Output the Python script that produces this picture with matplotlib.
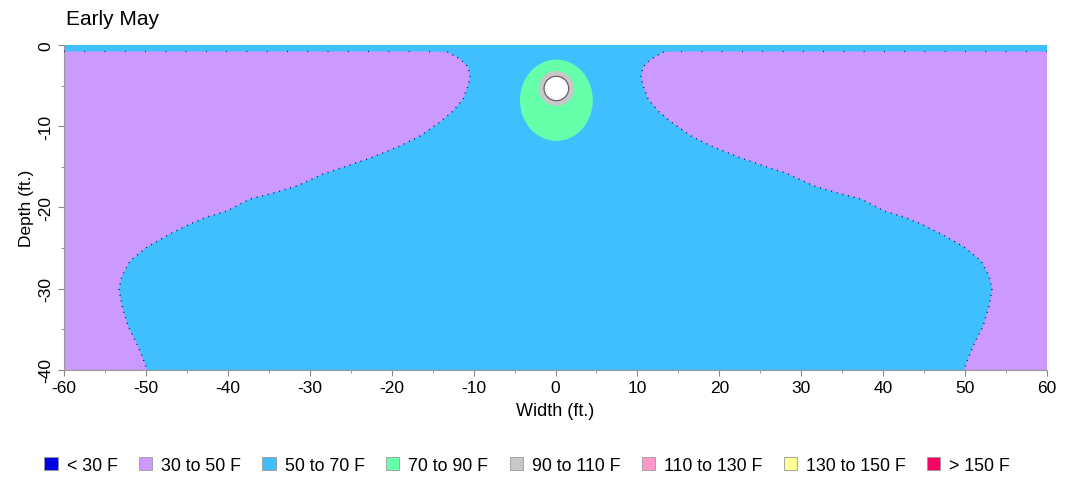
import matplotlib.pyplot as plt
from matplotlib.patches import Ellipse, Circle, Patch

plt.rcParams['font.family'] = ['Liberation Sans', 'DejaVu Sans']
plt.rcParams['axes.unicode_minus'] = False

# left purple/blue boundary (width ft, depth ft); right side is the mirror image
edge_x = [-60, -16.0, -13.2, -11.66, -10.68, -10.44, -10.68, -11.29, -12.51, -14.1,
          -16.54, -18.98, -22.28, -25.09, -28.38, -31.56, -34.85, -37.29, -40.1,
          -42.54, -44.62, -47.06, -49.87, -51.94, -52.92, -53.29, -52.92, -52.19,
          -50.97, -50.11, -49.87]
edge_d = [-0.8, -0.8, -0.85, -1.72, -2.71, -3.82, -5.05, -6.65, -8.12, -9.48,
          -11.2, -12.43, -13.78, -14.77, -15.88, -17.35, -18.34, -18.95, -20.43,
          -21.17, -22.03, -23.26, -24.86, -26.58, -28.43, -30.03, -32.12, -34.58,
          -37.05, -39.26, -40.0]

# pipe and warm zone around it
pipe_x, pipe_d = 0.1, -5.35
pipe_r = 1.5
ring_r = 2.15
warm_x, warm_d = 0.1, -6.8
warm_w, warm_h = 8.9, 10.0

legend_labels = ['< 30 F', '30 to 50 F', '50 to 70 F', '70 to 90 F',
                 '90 to 110 F', '110 to 130 F', '130 to 150 F', '> 150 F']
legend_colors = ['#0000e6', '#cc99ff', '#40bfff', '#66ffaa',
                 '#c8c8c8', '#ff99cc', '#ffff99', '#ff0066']

purple = legend_colors[1]
blue = legend_colors[2]
dot_col = '#1a1a55'

fig = plt.figure(figsize=(10.67, 4.81), dpi=100)
ax = fig.add_axes([0.06, 0.2287, 0.9213, 0.6757])
ax.set_facecolor(blue)

# purple zones, left and mirrored right
left_x = edge_x + [-60]
left_d = edge_d + [-40]
ax.fill(left_x, left_d, color=purple, lw=0, zorder=1)
ax.fill([-v for v in left_x], left_d, color=purple, lw=0, zorder=1)

# dotted contour edges
for sgn in (1, -1):
    xs = [sgn * v for v in edge_x[2:]]
    ax.plot(xs, edge_d[2:], color=dot_col, lw=1.1, ls=(0, (0.6, 3.2)), zorder=3)
    ax.plot([sgn * v for v in edge_x[:3]], edge_d[:3], color=dot_col, lw=1.0,
            ls=(0, (0.6, 14)), zorder=3)

ax.add_patch(Ellipse((warm_x, warm_d), warm_w, warm_h, color=legend_colors[3], lw=0, zorder=2))
ax.add_patch(Circle((pipe_x, pipe_d), ring_r, facecolor=legend_colors[4], edgecolor='none', zorder=4))
ax.add_patch(Circle((pipe_x, pipe_d), pipe_r, facecolor='white', edgecolor='#6a5a6a', lw=0.9, zorder=5))

ax.set_xlim(-60, 60)
ax.set_ylim(-40, 0)
ax.set_xticks(range(-60, 61, 10))
ax.set_xticks(range(-55, 60, 10), minor=True)
ax.set_yticks(range(-40, 1, 10))
ax.set_yticks(range(-35, 0, 10), minor=True)
ax.tick_params(axis='both', which='major', length=4, color='#888888', labelsize=12.5)
ax.tick_params(axis='both', which='minor', length=2.5, color='#888888')
ax.tick_params(axis='y', labelrotation=90)
for lbl in ax.get_yticklabels():
    lbl.set_va('center')
for side in ('top', 'right'):
    ax.spines[side].set_visible(False)
for side in ('left', 'bottom'):
    ax.spines[side].set_color('#999999')
    ax.spines[side].set_linewidth(0.8)

ax.set_xlabel('Width (ft.)', fontsize=13, labelpad=5)
ax.set_ylabel('Depth (ft.)', fontsize=12.5, labelpad=3)
fig.text(0.062, 0.96, 'Early May', fontsize=15, va='center', ha='left')

handles = [Patch(facecolor=c, edgecolor='#999999', lw=0.6) for c in legend_colors]
fig.legend(handles, legend_labels, loc='center', bbox_to_anchor=(0.494, 0.03), ncol=8,
           frameon=False, fontsize=12.8, handlelength=0.75, handleheight=0.75,
           handletextpad=0.5, columnspacing=1.2)

fig.savefig('out.png', dpi=100)
